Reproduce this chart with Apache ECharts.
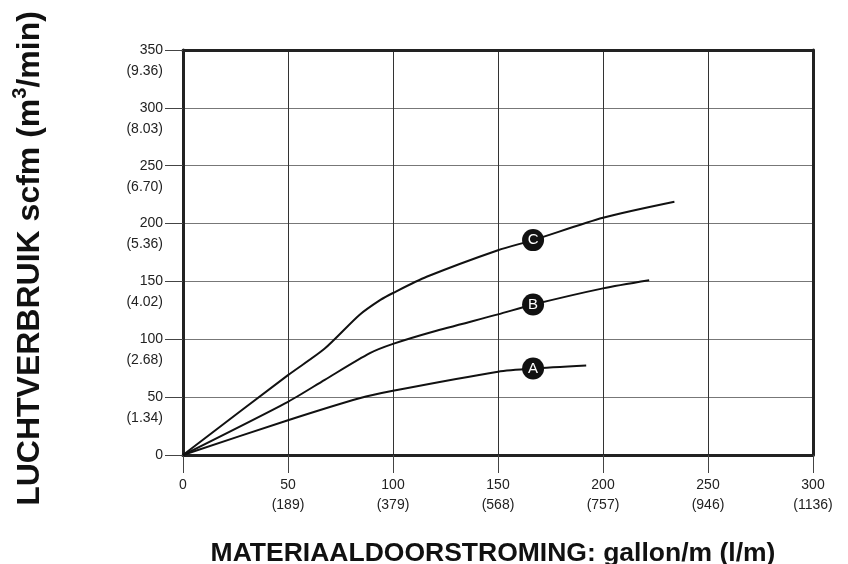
<!DOCTYPE html>
<html>
<head>
<meta charset="utf-8">
<script src="https://cdn.jsdelivr.net/npm/echarts@6/dist/echarts.min.js"></script>
<style>html,body{margin:0;padding:0;background:#fff}#c{width:848px;height:564px}</style>
</head>
<body>
<div id="c"></div>
<script>
// Data
const xTicks = [0, 50, 100, 150, 200, 250, 300];
const xMetric = ['', '(189)', '(379)', '(568)', '(757)', '(946)', '(1136)'];
const yTicks = [0, 50, 100, 150, 200, 250, 300, 350];
const yMetric = ['', '(1.34)', '(2.68)', '(4.02)', '(5.36)', '(6.70)', '(8.03)', '(9.36)'];

const curveA = [[0,0],[50,30],[84,49],[100,55.5],[150,72],[166.7,74.8],[192,77.4]];
const curveB = [[0,0],[50,46],[67.5,65],[89,88],[100,96],[119,106.5],[150,121.5],[166.7,130],[200,144],[222,151]];
const curveC = [[0,0],[50,69],[67.5,92],[84,121],[94,134],[100,140],[116,154],[150,177],[166.7,185.7],[200,205],[234,218.8]];

const markerLabels = ['A', 'B', 'C'];
const markerPoints = [[166.7,74.8],[166.7,130],[166.7,185.7]];

const xTitle = 'MATERIAALDOORSTROMING: gallon/m (l/m)';
const yTitleParts = ['LUCHTVERBRUIK scfm (m', '3', '/min)'];

const FONT = '"Liberation Sans", Arial, Helvetica, sans-serif';
const chart = echarts.init(document.getElementById('c'), null, {renderer: 'canvas'});

const lineStyle = {color: '#111', width: 2};
function curve(name, data) {
  return {type: 'line', name, data, smooth: 0.25, showSymbol: false, symbol: 'none',
    lineStyle, xAxisIndex: 0, yAxisIndex: 0, z: 3, silent: true, animation: false};
}
const labelBase = {fontFamily: FONT, fontSize: 14, color: '#222', hideOverlap: false,
  showMinLabel: true, showMaxLabel: true};

chart.setOption({
  animation: false,
  grid: {left: 183, right: 35, top: 50, bottom: 109, containLabel: false, outerBoundsMode: 'none'},
  xAxis: [{
    type: 'value', min: 0, max: 300, interval: 50, position: 'bottom',
    name: xTitle, nameLocation: 'middle', nameGap: 85,
    nameTextStyle: {fontFamily: FONT, fontWeight: 'bold', fontSize: 26.5, color: '#111', padding: [0, 10, 0, 0]},
    axisLine: {show: true, onZero: false, lineStyle: {color: '#222', width: 3}},
    axisTick: {show: true, length: 18, lineStyle: {color: '#444', width: 1}},
    axisLabel: Object.assign({}, labelBase, {margin: 20, lineHeight: 20,
      formatter: v => { const i = xTicks.indexOf(v); return i > 0 ? v + '\n' + xMetric[i] : String(v); }}),
    splitLine: {show: true, lineStyle: {color: '#333', width: 1}}
  }, {
    type: 'value', min: 0, max: 300, interval: 50, position: 'top',
    axisLine: {show: true, onZero: false, lineStyle: {color: '#222', width: 3}},
    axisTick: {show: false}, axisLabel: {show: false}, splitLine: {show: false}
  }],
  yAxis: [{
    type: 'value', min: 0, max: 350, interval: 50, position: 'left',
    name: '{t|' + yTitleParts[0] + '}{s|' + yTitleParts[1] + '}{t|' + yTitleParts[2] + '}',
    nameLocation: 'middle', nameGap: 137, nameRotate: 90,
    nameTextStyle: {padding: [0, 12, 0, 0], rich: {
      t: {fontFamily: FONT, fontWeight: 'bold', fontSize: 32, lineHeight: 36, color: '#111', verticalAlign: 'bottom'},
      s: {fontFamily: FONT, fontWeight: 'bold', fontSize: 20, lineHeight: 20, color: '#111', verticalAlign: 'top'}
    }},
    axisLine: {show: true, onZero: false, lineStyle: {color: '#222', width: 3}},
    axisTick: {show: true, length: 18, lineStyle: {color: '#444', width: 1}},
    axisLabel: Object.assign({}, labelBase, {margin: 20, formatter: v => String(v)}),
    splitLine: {show: true, lineStyle: {color: '#777', width: 1}}
  }, {
    type: 'value', min: 0, max: 350, interval: 50, position: 'right',
    axisLine: {show: true, onZero: false, lineStyle: {color: '#222', width: 3}},
    axisTick: {show: false}, axisLabel: {show: false}, splitLine: {show: false}
  }, {
    type: 'value', min: 0, max: 350, interval: 50, position: 'left', offset: 0,
    axisLine: {show: false}, axisTick: {show: false}, splitLine: {show: false},
    axisLabel: Object.assign({}, labelBase, {margin: 20, verticalAlign: 'top', lineHeight: 42,
      formatter: v => { const i = yTicks.indexOf(v); return i > 0 ? yMetric[i] : ''; }})
  }],
  series: [
    curve('A', curveA),
    curve('B', curveB),
    curve('C', curveC),
    {
      type: 'scatter', name: 'markers', xAxisIndex: 0, yAxisIndex: 0, z: 5, silent: true,
      symbol: 'circle', symbolSize: 22,
      itemStyle: {color: '#111', opacity: 1},
      data: markerPoints.map((p, i) => ({value: p, name: markerLabels[i]})),
      label: {show: true, position: 'inside', formatter: p => p.name,
        fontFamily: FONT, fontSize: 15, color: '#fff'}
    }
  ]
});
</script>
</body>
</html>
